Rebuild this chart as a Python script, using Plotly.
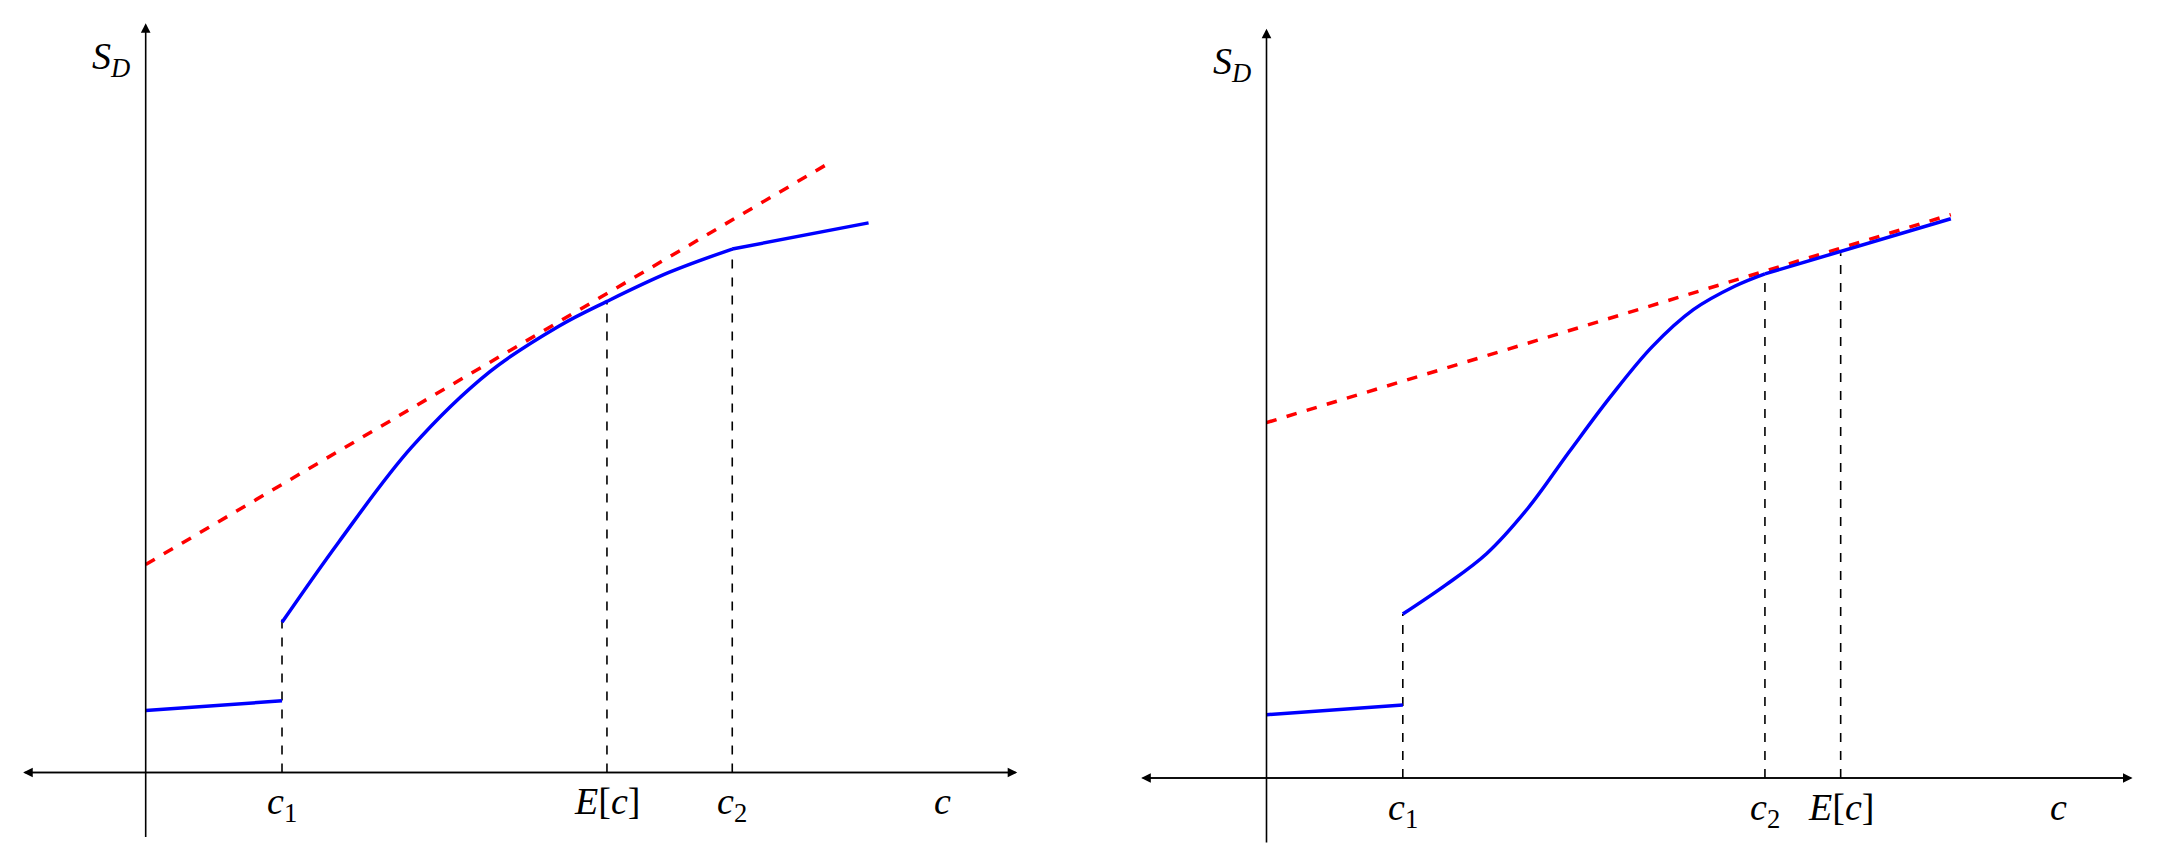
import plotly.graph_objects as go

# panel coordinates, origin at the axes crossing (display units, y up)
left_low_x = [0, 99]
left_low_y = [45, 52]
left_curve_x = [99, 140, 193, 250, 300, 335, 380, 426]
left_curve_y = [109, 167, 236, 291, 324, 342, 363, 380]
left_tail_x = [426, 525]
left_tail_y = [380, 399]
left_red_x = [0, 499]
left_red_y = [151, 444]
left_marks = {"c1": (99, 117), "E": (335, 342), "c2": (426, 380)}

right_low_x = [0, 99]
right_low_y = [46, 53]
right_curve_x = [99, 130, 160, 190, 220, 250, 280, 310, 340, 362]
right_curve_y = [119, 140, 163, 196, 237, 277, 313, 340, 357, 366]
right_tail_x = [362, 497]
right_tail_y = [366, 406]
right_red_x = [0, 497]
right_red_y = [258, 409]
right_marks = {"c1": (99, 119), "c2": (362, 366), "E": (417, 381)}

labels = {"c1": "<i>c</i><sub>1</sub>", "c2": "<i>c</i><sub>2</sub>", "E": "<i>E</i>[<i>c</i>]"}

fig = go.Figure()
FONT = dict(family="Liberation Serif, DejaVu Serif, serif", size=38, color="black")
ann = []


def panel(low, curve, tail, red, marks, xaxis_len, n):
    xa, ya = ("x", "y") if n == 1 else ("x2", "y2")
    fig.add_trace(go.Scatter(x=red[0], y=red[1], mode="lines", xaxis=xa, yaxis=ya,
                             line=dict(color="red", width=3.5, dash="dash")))
    for mk, (mx, my) in marks.items():
        fig.add_trace(go.Scatter(x=[mx, mx], y=[0, my], mode="lines", xaxis=xa, yaxis=ya,
                                 line=dict(color="black", width=1.6, dash="dash")))
        ann.append(dict(x=mx, y=-4, xref=xa, yref=ya, text=labels[mk], showarrow=False,
                        yanchor="top", font=FONT))
    fig.add_trace(go.Scatter(x=low[0], y=low[1], mode="lines", xaxis=xa, yaxis=ya,
                             line=dict(color="blue", width=3.5)))
    fig.add_trace(go.Scatter(x=curve[0], y=curve[1], mode="lines", xaxis=xa, yaxis=ya,
                             line=dict(color="blue", width=3.5, shape="spline")))
    fig.add_trace(go.Scatter(x=tail[0], y=tail[1], mode="lines", xaxis=xa, yaxis=ya,
                             line=dict(color="blue", width=3.5)))
    # axes with arrows
    x0, x1 = xaxis_len
    for (tx, ax_) in [(x1, x0), (x0, x1)]:
        ann.append(dict(x=tx, y=0, ax=ax_, ay=0, xref=xa, yref=ya, axref=xa, ayref=ya,
                        showarrow=True, arrowhead=2, arrowsize=1.2, arrowwidth=1.6,
                        arrowcolor="black", text=""))
    ann.append(dict(x=0, y=544, ax=0, ay=-48, xref=xa, yref=ya, axref=xa, ayref=ya,
                    showarrow=True, arrowhead=2, arrowsize=1.2, arrowwidth=1.6,
                    arrowcolor="black", text=""))
    ann.append(dict(x=-25, y=518, xref=xa, yref=ya, text="<i>S</i><sub><i>D</i></sub>",
                    showarrow=False, font=FONT))
    ann.append(dict(x=xaxis_len[1] - 54, y=-4, xref=xa, yref=ya, text="<i>c</i>",
                    showarrow=False, yanchor="top", font=FONT))


panel((left_low_x, left_low_y), (left_curve_x, left_curve_y),
      (left_tail_x, left_tail_y), (left_red_x, left_red_y), left_marks, (-89, 633), 1)
panel((right_low_x, right_low_y), (right_curve_x, right_curve_y),
      (right_tail_x, right_tail_y), (right_red_x, right_red_y), right_marks, (-91, 629), 2)

hide = dict(visible=False, showgrid=False, zeroline=False)
fig.update_layout(
    width=2159, height=843, margin=dict(l=0, r=0, t=0, b=0),
    plot_bgcolor="white", paper_bgcolor="white", showlegend=False,
    xaxis=dict(domain=[0, 0.5], range=[-100, 684], **hide),
    yaxis=dict(domain=[0, 1], range=[-57, 555], **hide),
    xaxis2=dict(domain=[0.5, 1], range=[-130, 654], anchor="y2", **hide),
    yaxis2=dict(domain=[0, 1], range=[-53, 559], anchor="x2", **hide),
    annotations=ann,
)
fig.write_html("out.html")
